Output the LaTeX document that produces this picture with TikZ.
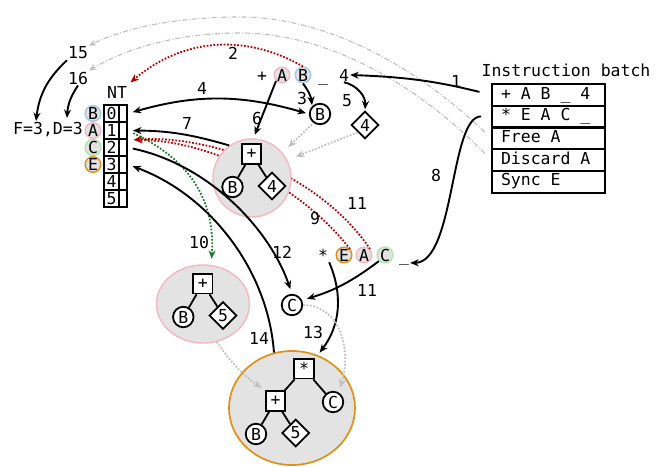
\documentclass[tikz,border=0pt]{standalone}
\usepackage{fontspec}
\setmainfont{DejaVu Sans Mono}
\usetikzlibrary{arrows.meta,shapes.geometric}
\definecolor{regblue}{RGB}{160,200,238}
\definecolor{regpink}{RGB}{245,182,194}
\definecolor{reggreen}{RGB}{178,230,178}
\definecolor{regorange}{RGB}{222,145,20}
\definecolor{treegray}{RGB}{227,227,227}
\definecolor{dotred}{RGB}{180,0,0}
\definecolor{dotgreen}{RGB}{30,125,45}
\definecolor{hintgray}{RGB}{190,190,190}
\newcommand\monofont{\fontsize{16.5}{20}\selectfont}
\newcommand\fixspace{\spaceskip=0.602em\relax}
\tikzset{
  tok/.style={inner sep=1pt, anchor=base},
  lbl/.style={inner sep=1pt},
  reg/.style={circle, draw=#1, line width=1.5pt, fill=treegray, inner sep=0pt, minimum size=15.5pt},
  opnd/.style={circle, draw, line width=1.8pt, fill=white, inner sep=0pt, minimum size=20.5pt},
  opbox/.style={rectangle, draw, line width=1.8pt, fill=white, inner sep=0pt, minimum size=19.5pt},
  imm/.style={diamond, draw, line width=1.8pt, fill=white, inner sep=0pt, minimum size=27.5pt},
  grp/.style={ellipse, draw=#1, line width=1.4pt, fill=treegray, inner sep=0pt},
  ntcell/.style={rectangle, draw, line width=1.8pt, inner sep=0pt, minimum height=17pt},
  ibrow/.style={rectangle, draw, line width=1.8pt, minimum width=113pt, minimum height=21.7pt,
    text width=95pt, inner xsep=9pt, align=left, text height=12pt, text depth=3.5pt},
  treeedge/.style={line width=1.8pt},
  flow/.style={-{Stealth[length=8.5pt,width=7pt]}, line width=1.9pt},
  biflow/.style={{Stealth[length=8.5pt,width=7pt]}-{Stealth[length=8.5pt,width=7pt]}, line width=1.9pt},
  redflow/.style={-{Stealth[length=8.5pt,width=7pt]}, dotred, line width=1.8pt, dash pattern=on 1.7pt off 1.7pt},
  greenflow/.style={-{Stealth[length=8.5pt,width=7pt]}, dotgreen, line width=1.8pt, dash pattern=on 1.7pt off 1.7pt},
  hintflow/.style={-{Stealth[length=8.5pt,width=7pt]}, hintgray, line width=1.8pt, dash pattern=on 1.7pt off 1.7pt},
  ghostflow/.style={-{Stealth[length=7pt,width=6pt]}, hintgray, line width=1.1pt, dash pattern=on 5pt off 2pt on 1pt off 2pt},
}
\begin{document}
\begin{tikzpicture}[x=1pt, y=-1pt, font=\monofont]
  \useasboundingbox (0,0) rectangle (656,466);

  %--- Name table ---
  \node (ntl) at (117,92) {NT};
  \foreach \i in {0,...,5} {
    \node[ntcell, minimum width=15pt] (nt\i) at (111.5,113.5+17*\i) {\i};
    \node[ntcell, minimum width=8pt] (ntx\i) at (123,113.5+17*\i) {};
  }
  % registers beside the table
  \foreach \r/\c [count=\i from 0] in {B/regblue, A/regpink, C/reggreen, E/regorange}
    \node[reg=\c] (n\r) at (93,113.5+17*\i) {\r};
  \node (fd) at (48,130) {F=3,D=3};
  \coordinate (fF) at (36,121);
  \coordinate (fD) at (67,118);
  \node[lbl] (s15) at (78,53) {15};
  \node[lbl] (s16) at (78,78) {16};

  %--- Instruction batch ---
  \node (ibl) at (566,70) {Instruction batch};
  \foreach \t [count=\i] in {+ A B \_ 4, * E A C \_, Free A, Discard A, Sync E}
    \node[ibrow] (ib\i) at (548.5,73.15+21.7*\i) {\fixspace\t};

  %--- First instruction ---
  \node[tok] (plus1) at (262,81) {+};
  \node[reg=regpink] (rA1) at (282,75) {A};
  \node[reg=regblue] (rB1) at (303,75) {B};
  \node[tok] (us1) at (323,81) {\_};
  \node[tok] (imm1) at (344,81) {4};
  \node[opnd] (Bn) at (320,114) {B};
  \node[imm] (d1) at (365,125) {4};

  %--- Second instruction ---
  \node[tok] (star2) at (323,261) {*};
  \node[reg=regorange] (rE2) at (344,255) {E};
  \node[reg=regpink] (rA2) at (364,255) {A};
  \node[reg=reggreen] (rC2) at (385,255) {C};
  \node[tok] (us2) at (404,261) {\_};
  \node[opnd] (Cn) at (292,305) {C};

  % lookups 9 and 11 (behind the first tree)
  \draw[redflow, shorten >=6pt] (rE2.north east) .. controls (300,185) and (210,140) .. (ntx1.south east);
  \draw[redflow, shorten >=6pt] (rA2.north east) .. controls (320,175) and (215,135) .. (ntx1.south east);

  %--- Trees ---
  \node[grp=regpink, minimum width=78pt, minimum height=78pt] (g1) at (252,178) {};
  \node[opbox] (p1) at (251.5,154) {+};
  \node[opnd] (b1) at (232.5,187) {B};
  \node[imm] (f1) at (272,186) {4};
  \draw[treeedge] (p1) -- (b1);
  \draw[treeedge] (p1) -- (f1);

  \node[grp=regpink, minimum width=93pt, minimum height=78pt] (g2) at (203,304) {};
  \node[opbox] (p2) at (202.8,283.7) {+};
  \node[opnd] (b2) at (183.3,317) {B};
  \node[imm] (f2) at (223,315.5) {5};
  \draw[treeedge] (p2) -- (b2);
  \draw[treeedge] (p2) -- (f2);

  \node[grp=regorange, line width=1.7pt, minimum width=126pt, minimum height=114pt] (g3) at (292,408) {};
  \node[opbox] (m3) at (304,368.7) {*};
  \node[opnd] (c3) at (333,402) {C};
  \node[opbox] (p3) at (275.5,401) {+};
  \node[opnd] (b3) at (256,434) {B};
  \node[imm] (f3) at (295.7,433) {5};
  \draw[treeedge] (m3) -- (p3);
  \draw[treeedge] (m3) -- (c3);
  \draw[treeedge] (p3) -- (b3);
  \draw[treeedge] (p3) -- (f3);

  %--- Steps ---
  \draw[ghostflow, shorten <=9pt] (ib3.west) .. controls (420,70) and (330,17) .. (240,17)
    .. controls (170,17) and (120,30) .. (s15.north east);
  \draw[ghostflow, shorten <=9pt] (ib4.west) .. controls (420,87) and (330,33) .. (240,33)
    .. controls (170,33) and (120,52) .. (s16.north east);
  \draw[flow, shorten <=12pt] (ib1.west) to[bend right=6] (imm1.east);
  \draw[redflow] (rB1.north) to[bend right=35] (ntl.north east);
  \draw[flow, shorten >=1pt] (rB1.south) to[bend left=15] (Bn.north west);
  \draw[biflow, shorten <=5pt, shorten >=3pt] (ntx0.east) to[bend left=16] (Bn.west);
  \draw[flow, shorten >=1pt] (imm1.south) to[bend left=40] (d1.north);
  \draw[flow, shorten >=9pt] (rA1.south west) -- (p1.north);
  \draw[hintflow, shorten <=2pt, shorten >=8pt] (Bn.234) -- (g1.40);
  \draw[hintflow, shorten >=9pt] (d1.south west) -- (g1.27);
  \draw[flow, shorten >=5pt] (g1.125) to[bend right=8] (ntx1.east);
  \draw[flow, shorten <=10pt] (ib2.west) .. controls (450,116) and (455,262) .. (us2.east);
  \draw[greenflow, shorten <=6pt, shorten >=6pt] (ntx1.east) .. controls (190,160) and (215,200) .. (g2.78);
  \draw[flow, shorten >=5pt] (rC2.south west) to[bend left=10] (Cn.25);
  \draw[flow, shorten <=5pt, shorten >=5pt] (ntx2.east) .. controls (210,165) and (270,230) .. (Cn.north);
  \draw[flow, shorten >=3pt] (star2.south east) to[bend left=30] (g3.64);
  \draw[flow, shorten >=5pt] (g3.108) .. controls (268,270) and (210,195) .. (ntx3.east);
  \draw[hintflow, shorten >=4pt] (g2.-70) to[bend right=10] (p3.north west);
  \draw[hintflow, shorten >=5pt] (Cn.east) .. controls (340,305) and (352,350) .. (c3.60);
  \draw[flow] (s15.south west) to[bend right=20] (fF);
  \draw[flow] (s16.south) to[bend right=15] (fD);

  % step numbers
  \node[lbl] (l1) at (456,81) {1};
  \node[lbl] (l2) at (233,53) {2};
  \node[lbl] (l3) at (302,98) {3};
  \node[lbl] (l4) at (202,88) {4};
  \node[lbl] (l5) at (347,101) {5};
  \node[lbl] (l6) at (257,118) {6};
  \node[lbl] (l7) at (187,123) {7};
  \node[lbl] (l8) at (436,175) {8};
  \node[lbl] (l9) at (315,218) {9};
  \node[lbl] (l10) at (199,242) {10};
  \node[lbl] (l11a) at (357,203) {11};
  \node[lbl] (l11b) at (367,290) {11};
  \node[lbl] (l12) at (282,252) {12};
  \node[lbl] (l13) at (313,332) {13};
  \node[lbl] (l14) at (259,338) {14};
\end{tikzpicture}
\end{document}
